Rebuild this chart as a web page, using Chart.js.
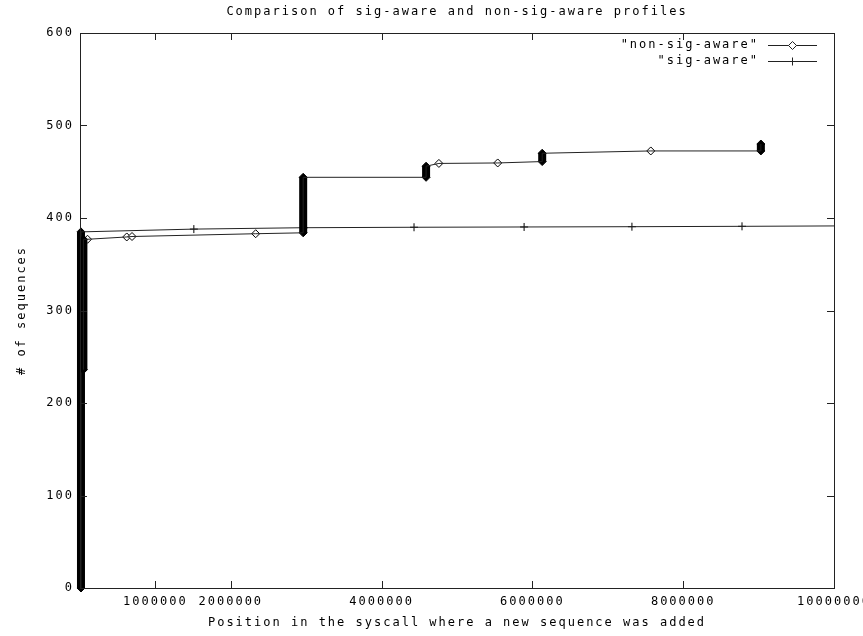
<!DOCTYPE html>
<html>
<head>
<meta charset="utf-8">
<title>Comparison of sig-aware and non-sig-aware profiles</title>
<script src="https://cdn.jsdelivr.net/npm/chart.js@4.4.1/dist/chart.umd.min.js"></script>
<style>
  html, body { margin: 0; padding: 0; background: #fff; }
</style>
</head>
<body>
<canvas id="plot" width="863" height="636"></canvas>
<script>
const xTicks = [1000000, 2000000, 4000000, 6000000, 8000000, 10000000];
const yTicks = [0, 100, 200, 300, 400, 500, 600];

// "non-sig-aware": single points (diamonds)
const nsaX = [100000, 620000, 690000, 2330000, 4760000, 5540000, 7570000];
const nsaY = [377, 379.5, 380, 383, 459, 459.5, 472.5];
// runs of many points on (almost) the same x, they print as solid bars
const nsaRunX = [45000, 2960000, 4590000, 6130000, 9030000];
const nsaRunLow = [236, 384, 444, 461, 472.5];
const nsaRunHigh = [377, 444, 456, 470, 480];

// "sig-aware": single points (crosses)
const saX = [1510000, 2970000, 4430000, 5890000, 7320000, 8780000, 10240000];
const saY = [388, 389.5, 390, 390.3, 390.6, 391, 391.5];
const saRunX = [13000];
const saRunLow = [0];
const saRunHigh = [385];

const FONT = '12px "DejaVu Sans Mono", "Liberation Mono", monospace';
const SPACING = '2px';
const INK = '#222';

function linePoints(xs, ys, runX, runLow, runHigh) {
  const pts = xs.map((x, i) => ({ x: x, y: ys[i] }));
  runX.forEach((x, i) => {
    pts.push({ x: x, y: runLow[i] });
    pts.push({ x: x, y: runHigh[i] });
  });
  pts.sort((a, b) => a.x - b.x || a.y - b.y);
  return pts;
}

function runPoints(runX, runLow, runHigh) {
  const pts = [];
  runX.forEach((x, i) => {
    pts.push({ x: x, y: runLow[i] }, { x: x, y: runHigh[i] }, { x: x, y: null });
  });
  return pts;
}

function markPoints(xs, ys) {
  return xs.map((x, i) => ({ x: x, y: ys[i] }));
}

// gnuplot style frame: box, inward ticks on all sides, labels, key
const gnuFrame = {
  id: 'gnuFrame',
  afterDatasetsDraw(chart) {
    const { ctx, chartArea: a, scales } = chart;
    const xs = scales.x, ys = scales.y;
    ctx.save();
    ctx.strokeStyle = INK;
    ctx.lineWidth = 1;
    ctx.strokeRect(a.left + 0.5, a.top + 0.5, a.right - a.left, a.bottom - a.top);

    ctx.beginPath();
    xs.ticks.forEach(t => {
      const px = Math.round(xs.getPixelForValue(t.value)) + 0.5;
      ctx.moveTo(px, a.bottom); ctx.lineTo(px, a.bottom - 7);
      ctx.moveTo(px, a.top); ctx.lineTo(px, a.top + 7);
    });
    ys.ticks.forEach(t => {
      const py = Math.round(ys.getPixelForValue(t.value)) + 0.5;
      ctx.moveTo(a.left, py); ctx.lineTo(a.left + 7, py);
      ctx.moveTo(a.right, py); ctx.lineTo(a.right - 7, py);
    });
    ctx.stroke();

    ctx.font = FONT;
    ctx.letterSpacing = SPACING;
    ctx.fillStyle = '#000';
    ctx.textBaseline = 'middle';

    ctx.textAlign = 'center';
    xs.ticks.forEach(t => {
      ctx.fillText(String(t.value), xs.getPixelForValue(t.value), a.bottom + 14);
    });
    ctx.textAlign = 'right';
    ys.ticks.forEach(t => {
      ctx.fillText(String(t.value), a.left - 6, ys.getPixelForValue(t.value));
    });

    const cx = (a.left + a.right) / 2;
    ctx.textAlign = 'center';
    ctx.fillText('Comparison of sig-aware and non-sig-aware profiles', cx, 12);
    ctx.fillText('Position in the syscall where a new sequence was added', cx, 623);
    ctx.save();
    ctx.translate(22, (a.top + a.bottom) / 2);
    ctx.rotate(-Math.PI / 2);
    ctx.fillText('# of sequences', 0, 0);
    ctx.restore();

    // key
    const keys = [
      { text: '"non-sig-aware"', style: 'rectRot', y: 45 },
      { text: '"sig-aware"', style: 'cross', y: 61 }
    ];
    keys.forEach(k => {
      ctx.textAlign = 'right';
      ctx.fillStyle = '#000';
      ctx.fillText(k.text, 759, k.y);
      ctx.beginPath();
      ctx.moveTo(768, k.y + 0.5); ctx.lineTo(817, k.y + 0.5);
      ctx.stroke();
      ctx.fillStyle = '#fff';
      Chart.helpers.drawPoint(ctx, { pointStyle: k.style, radius: 4, borderWidth: 1, rotation: 0 }, 792.5, k.y + 0.5);
    });
    ctx.restore();
  }
};

new Chart(document.getElementById('plot'), {
  type: 'scatter',
  data: {
    datasets: [
      {
        label: 'non-sig-aware line',
        data: linePoints(nsaX, nsaY, nsaRunX, nsaRunLow, nsaRunHigh),
        showLine: true, borderColor: INK, borderWidth: 1, pointRadius: 0
      },
      {
        label: 'non-sig-aware runs',
        data: runPoints(nsaRunX, nsaRunLow, nsaRunHigh),
        showLine: true, spanGaps: false, clip: false, borderColor: '#000', borderWidth: 8,
        pointStyle: 'rectRot', pointRadius: 4, pointBorderWidth: 1,
        pointBackgroundColor: '#000', pointBorderColor: '#000'
      },
      {
        label: 'non-sig-aware',
        data: markPoints(nsaX, nsaY),
        showLine: false, pointStyle: 'rectRot', pointRadius: 4, pointBorderWidth: 1,
        pointBackgroundColor: '#fff', pointBorderColor: '#000'
      },
      {
        label: 'sig-aware line',
        data: linePoints(saX, saY, saRunX, saRunLow, saRunHigh),
        showLine: true, borderColor: INK, borderWidth: 1, pointRadius: 0
      },
      {
        label: 'sig-aware runs',
        data: runPoints(saRunX, saRunLow, saRunHigh),
        showLine: true, spanGaps: false, clip: false, borderColor: '#000', borderWidth: 8,
        pointStyle: 'rectRot', pointRadius: 4, pointBorderWidth: 1,
        pointBackgroundColor: '#000', pointBorderColor: '#000'
      },
      {
        label: 'sig-aware',
        data: markPoints(saX, saY),
        showLine: false, pointStyle: 'cross', pointRadius: 4, pointBorderWidth: 1,
        pointBorderColor: '#000'
      }
    ]
  },
  options: {
    responsive: false,
    animation: false,
    events: [],
    layout: { padding: { top: 33, right: 29, left: 0, bottom: 0 } },
    plugins: { legend: { display: false }, title: { display: false }, tooltip: { enabled: false } },
    scales: {
      x: {
        type: 'linear', min: 0, max: 10000000,
        afterBuildTicks: s => { s.ticks = xTicks.map(v => ({ value: v })); },
        afterFit: s => { s.height = 48; },
        ticks: { display: false }, grid: { display: false }, border: { display: false }
      },
      y: {
        type: 'linear', min: 0, max: 600,
        afterBuildTicks: s => { s.ticks = yTicks.map(v => ({ value: v })); },
        afterFit: s => { s.width = 80; },
        ticks: { display: false }, grid: { display: false }, border: { display: false }
      }
    }
  },
  plugins: [gnuFrame]
});
</script>
</body>
</html>
